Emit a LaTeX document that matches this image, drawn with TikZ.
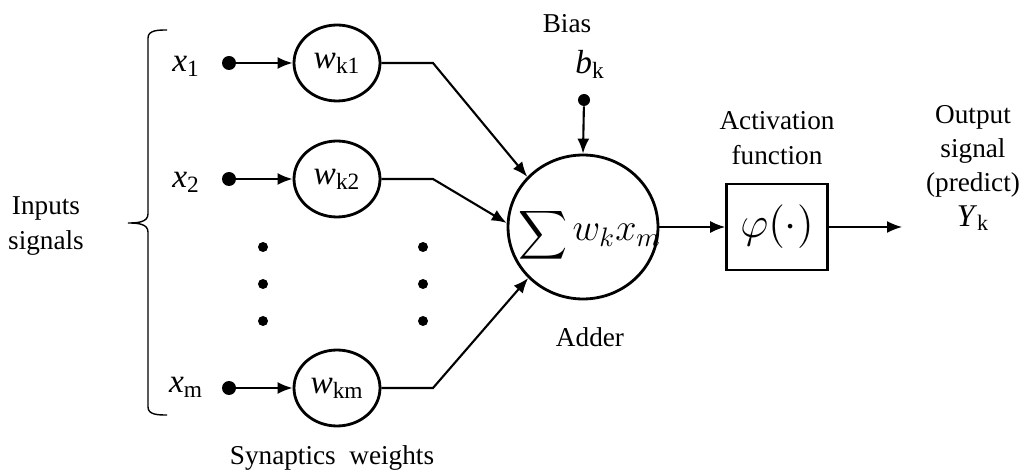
\RequirePackage{fix-cm}
\documentclass[tikz,border=0pt]{standalone}
\usepackage{amsmath, amssymb, graphicx}
\usepackage{fontspec}
\setmainfont{Liberation Serif}
\usetikzlibrary{arrows.meta, shapes}

\begin{document}
\begin{tikzpicture}[x=0.02cm, y=-0.02cm, >={Latex[length=3mm,width=2.4mm]},
    font=\fontsize{15.5}{19.5}\selectfont,
    var/.style={font=\fontsize{19}{22}\selectfont},
    weight/.style={ellipse, draw, line width=1.6pt, minimum width=1.72cm, minimum height=1.52cm, inner sep=0pt, var},
    sig/.style={line width=1.2pt},
    dot/.style={circle, fill, inner sep=0pt, minimum size=#1}]
    \useasboundingbox (0,0) rectangle (1020,472);

    % Nodes
    \node [align=center] (inputs) at (46,226) {Inputs\\signals};
    \node [var] (x1) at (186,66) {\textit{x}\textsubscript{1}};
    \node [var] (x2) at (186,182) {\textit{x}\textsubscript{2}};
    \node [var] (xm) at (186,387) {\textit{x}\textsubscript{m}};
    \node [dot=2.8mm] (d1) at (229,63) {};
    \node [dot=2.8mm] (d2) at (229,179) {};
    \node [dot=2.8mm] (dm) at (229,388) {};
    \node [weight] (w1) at (337,63) {\textit{w}\textsubscript{k1}};
    \node [weight] (w2) at (337,179) {\textit{w}\textsubscript{k2}};
    \node [weight] (wm) at (337,388) {\textit{w}\textsubscript{km}};
    \node [ellipse, draw, line width=1.6pt, minimum width=3cm, minimum height=2.88cm, inner sep=0pt] (adder) at (583,227) {};
    \node [inner sep=0pt] (sum) at (590,235)
        {\raisebox{-1.7pt}{\scalebox{1.25}{$\displaystyle\sum$}}\,\scalebox{1.4}{$w_k x_m$}};
    \node [rectangle, draw, line width=1.6pt, minimum width=2.02cm, minimum height=1.72cm] (act) at (777,227)
        {\scalebox{1.6}{$\varphi(\cdot)$}};
    \node [dot=2.4mm] (b) at (584,100) {};
    \node [var] (bk) at (590,64) {\textit{b}\textsubscript{k}};
    \coordinate (out) at (902,227);

    % Paths
    \draw [sig, ->] (d1) -- (w1);
    \draw [sig, ->] (d2) -- (w2);
    \draw [sig, ->] (dm) -- (wm);
    \draw [sig, ->] (w1.east) -- (433,63) -- (adder.138);
    \draw [sig, ->] (w2.east) -- (433,179) -- (adder.177);
    \draw [sig, ->] (wm.east) -- (433,388) -- (adder.223);
    \draw [sig, ->] (b) -- (adder.north);
    \draw [line width=0.9pt, ->] (adder.east) -- (act.west);
    \draw [line width=0.9pt, ->] (act.east) -- (out);

    % Ellipsis dots
    \foreach \y in {247,284,321} {
        \node [dot=2mm] (l\y) at (263,\y) {};
        \node [dot=2mm] (r\y) at (423,\y) {};
    }

    % Brace
    \draw [line width=0.8pt] (167,30) to[out=180,in=90] (148,38) -- (148,214)
        to[out=-90,in=0] (128,223) to[out=0,in=90] (148,232) -- (148,407) to[out=-90,in=180] (167,415);

    % Labels
    \node (bias) at (567,24) {Bias};
    \node (adderlbl) at (590,337) {Adder};
    \node [align=center] (actlbl) at (777,138) {Activation\\function};
    \node [align=center] (outlbl) at (973,168) {Output\\signal\\(predict)\\{\fontsize{18}{19.5}\selectfont\textit{Y}\textsubscript{k}}};
    \node (syn) at (332,458) {Synaptics\ \ weights};
\end{tikzpicture}
\end{document}
